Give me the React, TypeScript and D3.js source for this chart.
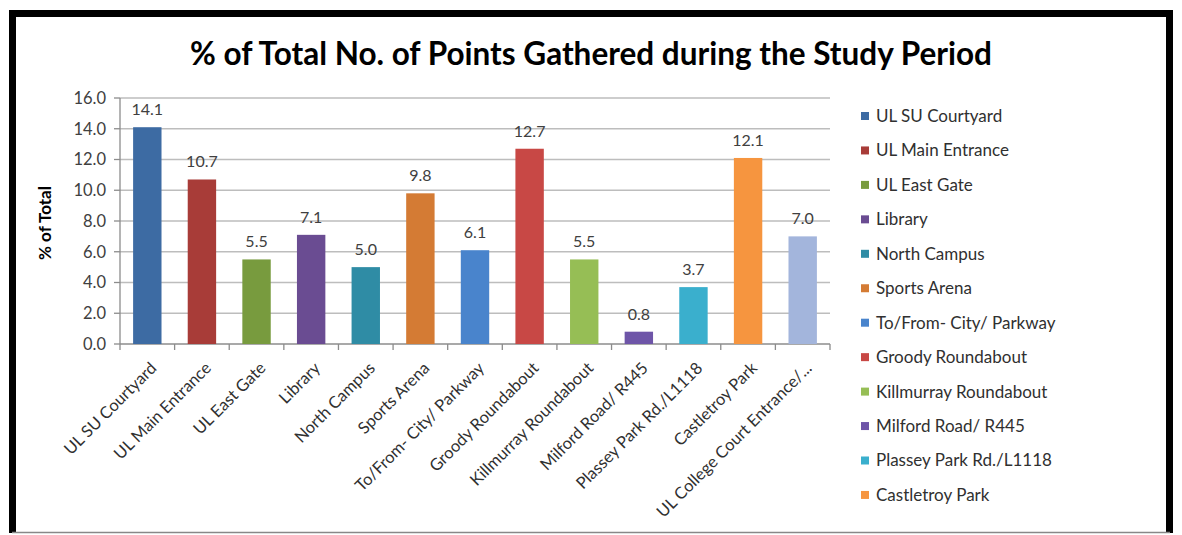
import React from "react";
import * as d3 from "d3";

const categories = [
  "UL SU Courtyard",
  "UL Main Entrance",
  "UL East Gate",
  "Library",
  "North Campus",
  "Sports Arena",
  "To/From- City/ Parkway",
  "Groody Roundabout",
  "Killmurray Roundabout",
  "Milford Road/ R445",
  "Plassey Park Rd./L1118",
  "Castletroy Park",
  "UL College Court Entrance/...",
];
const values = [14.1, 10.7, 5.5, 7.1, 5.0, 9.8, 6.1, 12.7, 5.5, 0.8, 3.7, 12.1, 7.0];
const colors = [
  "#3D6BA3", "#A83C38", "#789B3E", "#6A4C92", "#2F8CA5", "#D47B34",
  "#4984CC", "#C84845", "#96BE55", "#6E55A8", "#3AAFCD", "#F6953F", "#A3B5DC",
];
const legendItems = categories.slice(0, 12);
const yTicks = [0, 2, 4, 6, 8, 10, 12, 14, 16];
const title = "% of Total No. of Points Gathered during the Study Period";
const yLabel = "% of Total";

const W = 1182;
const H = 535;
const FONT = "Lato, 'Open Sans', sans-serif";

export default function App() {
  const x = d3.scaleBand<string>().domain(categories).range([120, 830]).paddingInner(0.48).paddingOuter(0.24);
  const y = d3.scaleLinear().domain([0, 16]).range([344, 98]);
  const step = x.step();
  const bounds = d3.range(categories.length + 1).map((i) => 120 + i * step);

  return (
    <svg width={W} height={H} style={{ position: "absolute", left: 0, top: 0, background: "#fff" }} fontFamily={FONT}>
      <rect x={0} y={0} width={W} height={H} fill="#fff" />
      {/* frame */}
      <path d="M12.5,533 L12.5,13.5 L1169.5,13.5 L1169.5,533" fill="none" stroke="#000" strokeWidth={7} />
      <line x1={12} x2={1170} y1={532.5} y2={532.5} stroke="#888" strokeWidth={1.5} />

      <text x={591} y={65} textAnchor="middle" fontSize={31.5} fontWeight="bold" fill="#000">{title}</text>

      {/* gridlines */}
      {yTicks.map((t) => (
        <g key={t}>
          <line x1={120} x2={830} y1={y(t)} y2={y(t)} stroke={t === 0 ? "#8C8C8C" : "#BDBDBD"} strokeWidth={1.3} />
          <line x1={114} x2={120} y1={y(t)} y2={y(t)} stroke="#8C8C8C" strokeWidth={1.3} />
          <text x={106} y={y(t)} dy="0.35em" textAnchor="end" fontSize={16.5} fill="#404040">{t.toFixed(1)}</text>
        </g>
      ))}
      <line x1={120} x2={120} y1={98} y2={344} stroke="#8C8C8C" strokeWidth={1.3} />
      {bounds.map((b, i) => (
        <line key={i} x1={b} x2={b} y1={344} y2={350} stroke="#8C8C8C" strokeWidth={1.3} />
      ))}

      <text transform={`translate(51,223) rotate(-90)`} textAnchor="middle" fontSize={17} fontWeight="bold" fill="#000">{yLabel}</text>

      {/* bars */}
      {categories.map((c, i) => (
        <g key={c}>
          <rect x={x(c)} y={y(values[i])} width={x.bandwidth()} height={y(0) - y(values[i])} fill={colors[i]} />
          <text x={(x(c) as number) + x.bandwidth() / 2} y={y(values[i]) - 12} textAnchor="middle" fontSize={16} fill="#404040">
            {values[i].toFixed(1)}
          </text>
          <text
            transform={`translate(${(x(c) as number) + x.bandwidth() / 2 + 2},${361}) rotate(-45)`}
            textAnchor="end"
            dy="0.7em"
            fontSize={16.5}
            fill="#303030"
          >
            {c}
          </text>
        </g>
      ))}

      {/* legend */}
      {legendItems.map((c, i) => {
        const cy = 116 + i * 34.45;
        return (
          <g key={c}>
            <rect x={861} y={cy - 4} width={8} height={8} fill={colors[i]} />
            <text x={876} y={cy} dy="0.35em" fontSize={17} fill="#303030">{c}</text>
          </g>
        );
      })}
    </svg>
  );
}
